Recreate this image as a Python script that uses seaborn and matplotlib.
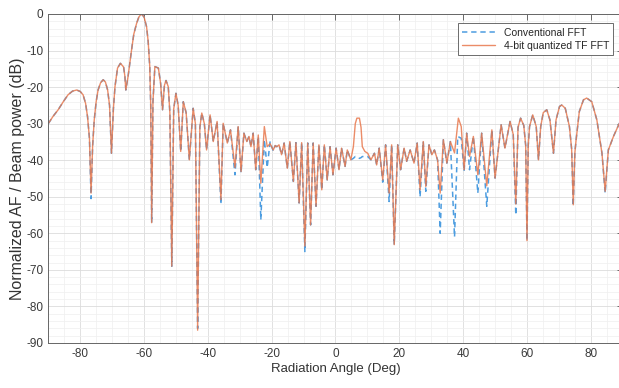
import matplotlib
matplotlib.use("Agg")
import matplotlib.pyplot as plt
from matplotlib.ticker import MultipleLocator
import pandas as pd
import seaborn as sns

sns.set_theme(style="white")
plt.rcParams["font.family"] = ["Liberation Sans", "DejaVu Sans"]
plt.rcParams["axes.unicode_minus"] = False

# (angle deg, normalized power dB), peaks and nulls
QUANT_PTS = [
    (-90.0, -30.0), (-88.5, -28.0), (-86.9, -26.2), (-85.3, -24.0), (-83.8, -22.1),
    (-82.4, -21.1), (-81.1, -20.8), (-80.0, -21.2), (-79.1, -22.1), (-78.3, -24.5),
    (-77.7, -28.1), (-77.1, -34.0), (-76.6, -49.0), (-76.1, -36.0), (-75.6, -29.0),
    (-75.0, -24.0), (-74.4, -20.8), (-73.6, -18.8), (-72.8, -18.0), (-72.1, -18.6),
    (-71.4, -20.8), (-70.8, -25.0), (-70.2, -38.1), (-69.6, -26.0), (-69.1, -19.9),
    (-68.3, -14.8), (-67.4, -13.5), (-66.4, -14.5), (-66.0, -17.0), (-65.7, -20.8),
    (-65.0, -17.1), (-64.4, -13.0), (-63.9, -9.8), (-63.2, -5.5), (-62.3, -2.5),
    (-61.6, -0.8), (-60.8, 0.0), (-60.0, -0.8), (-59.2, -3.5), (-58.7, -7.5),
    (-58.2, -14.4), (-57.9, -25.0), (-57.6, -57.1), (-57.2, -24.0), (-56.6, -14.4),
    (-55.5, -14.8), (-54.8, -19.0), (-54.2, -26.2), (-53.6, -19.5), (-53.1, -18.2),
    (-52.4, -19.9), (-51.9, -27.0), (-51.3, -69.0), (-50.7, -26.0), (-50.0, -21.7),
    (-49.3, -25.0), (-48.5, -37.6), (-47.7, -24.0), (-46.8, -27.0), (-45.8, -39.9),
    (-44.6, -25.8), (-43.9, -30.0), (-43.2, -86.5), (-42.5, -31.0), (-41.9, -27.1),
    (-41.1, -30.0), (-40.4, -37.2), (-39.3, -27.6), (-38.3, -34.9), (-37.1, -29.4),
    (-35.9, -50.8), (-35.2, -29.9), (-33.9, -35.3), (-32.9, -31.7), (-31.5, -42.0),
    (-30.5, -30.8), (-29.6, -43.1), (-28.7, -32.6), (-27.8, -34.9), (-27.1, -33.5),
    (-26.5, -36.3), (-25.8, -32.6), (-25.0, -42.6), (-24.2, -33.1), (-23.4, -46.3),
    (-22.3, -30.8), (-21.4, -36.3), (-20.5, -35.5), (-19.5, -37.2), (-18.9, -36.0),
    (-18.4, -36.3), (-17.7, -35.8), (-16.9, -38.5), (-16.1, -35.3), (-15.1, -42.2),
    (-14.3, -34.9), (-13.2, -45.8), (-12.4, -35.2), (-11.4, -51.7), (-10.6, -35.2),
    (-9.6, -63.5), (-8.7, -35.3), (-7.8, -57.7), (-7.0, -35.3), (-6.1, -52.6),
    (-5.2, -35.8), (-4.3, -48.1), (-3.5, -35.8), (-2.6, -45.4), (-1.7, -36.3),
    (-0.8, -44.0), (0.2, -36.7), (1.1, -42.6), (1.9, -36.7), (3.0, -41.7),
    (3.7, -37.2), (4.8, -39.9), (5.6, -36.3), (6.2, -30.0), (6.7, -28.5),
    (7.5, -28.5), (8.0, -31.0), (8.4, -36.3), (9.2, -37.6), (10.1, -38.1),
    (11.1, -39.9), (12.2, -38.1), (12.9, -41.3), (13.7, -36.7), (14.8, -45.4),
    (15.7, -35.8), (16.8, -49.0), (17.6, -35.8), (18.4, -63.1), (19.5, -35.8),
    (20.4, -42.6), (21.5, -36.7), (22.3, -40.3), (23.4, -37.2), (24.6, -40.8),
    (25.6, -35.3), (26.5, -48.1), (27.5, -34.9), (28.3, -47.2), (29.3, -35.8),
    (30.2, -38.5), (31.0, -37.2), (32.0, -40.0), (32.8, -49.0), (33.8, -34.4),
    (34.9, -40.8), (36.0, -34.9), (37.3, -38.0), (38.5, -28.5), (39.4, -30.8),
    (40.3, -42.6), (41.1, -32.6), (42.0, -39.0), (43.2, -33.5), (44.6, -44.0),
    (45.8, -32.6), (47.4, -47.0), (49.0, -31.7), (50.0, -44.9), (51.9, -30.3),
    (53.1, -36.7), (54.7, -29.4), (55.7, -33.0), (56.5, -52.0), (57.2, -31.0),
    (58.0, -28.5), (59.0, -30.5), (59.6, -36.0), (60.0, -62.0), (60.4, -36.0),
    (60.8, -30.8), (61.8, -27.6), (62.9, -30.8), (63.6, -39.9), (64.3, -30.8),
    (65.1, -27.0), (66.2, -26.2), (67.2, -29.0), (68.3, -38.1), (69.1, -29.0),
    (70.2, -25.3), (70.9, -24.9), (72.0, -25.8), (73.3, -30.8), (74.0, -37.0),
    (74.5, -52.2), (75.0, -38.0), (75.4, -34.4), (76.4, -26.7), (77.7, -23.5),
    (78.7, -23.0), (80.3, -24.0), (81.9, -29.0), (83.5, -38.1), (84.5, -48.5),
    (85.5, -37.2), (87.1, -33.5), (88.9, -30.0), (90.0, -28.5),
]

CONV_PTS = [
    (-90.0, -30.0), (-88.5, -28.0), (-86.9, -26.2), (-85.3, -24.0), (-83.8, -22.1),
    (-82.4, -21.1), (-81.1, -20.8), (-80.0, -21.2), (-79.1, -22.1), (-78.3, -24.5),
    (-77.7, -28.1), (-77.1, -34.0), (-76.6, -50.5), (-76.1, -36.0), (-75.6, -29.0),
    (-75.0, -24.0), (-74.4, -20.8), (-73.6, -18.8), (-72.8, -18.0), (-72.1, -18.6),
    (-71.4, -20.8), (-70.8, -25.0), (-70.2, -38.1), (-69.6, -26.0), (-69.1, -19.9),
    (-68.3, -14.8), (-67.4, -13.5), (-66.4, -14.5), (-66.0, -17.0), (-65.7, -20.8),
    (-65.0, -17.1), (-64.4, -13.0), (-63.9, -9.8), (-63.2, -5.5), (-62.3, -2.5),
    (-61.6, -0.8), (-60.8, 0.0), (-60.0, -0.8), (-59.2, -3.5), (-58.7, -7.5),
    (-58.2, -14.4), (-57.9, -25.0), (-57.6, -57.1), (-57.2, -24.0), (-56.6, -14.4),
    (-55.5, -14.8), (-54.8, -19.0), (-54.2, -26.2), (-53.6, -19.5), (-53.1, -18.2),
    (-52.4, -19.9), (-51.9, -27.0), (-51.3, -69.0), (-50.7, -26.0), (-50.0, -21.7),
    (-49.3, -25.0), (-48.5, -37.6), (-47.7, -24.0), (-46.8, -27.0), (-45.8, -39.9),
    (-44.6, -25.8), (-43.9, -30.0), (-43.2, -86.0), (-42.5, -31.0), (-41.9, -27.1),
    (-41.1, -30.0), (-40.4, -37.2), (-39.3, -27.6), (-38.3, -34.9), (-37.1, -29.4),
    (-35.9, -52.0), (-35.2, -29.9), (-33.9, -35.3), (-32.9, -31.7), (-31.5, -44.0),
    (-30.5, -30.8), (-29.6, -43.5), (-28.7, -32.6), (-27.8, -34.9), (-27.1, -33.5),
    (-26.5, -36.3), (-25.8, -32.6), (-25.0, -42.6), (-24.2, -33.5), (-23.4, -56.3),
    (-22.3, -34.4), (-21.4, -42.0), (-20.5, -35.0), (-19.5, -37.5), (-18.9, -36.0),
    (-18.4, -36.3), (-17.7, -35.8), (-16.9, -38.5), (-16.1, -35.3), (-15.1, -42.2),
    (-14.3, -34.9), (-13.2, -45.8), (-12.4, -35.2), (-11.4, -51.7), (-10.6, -35.2),
    (-9.6, -65.0), (-8.7, -35.3), (-7.8, -57.7), (-7.0, -35.3), (-6.1, -52.6),
    (-5.2, -35.8), (-4.3, -48.1), (-3.5, -35.8), (-2.6, -45.4), (-1.7, -36.3),
    (-0.8, -44.0), (0.2, -36.7), (1.1, -42.6), (1.9, -36.7), (3.0, -41.7),
    (3.7, -37.2), (4.8, -39.9), (5.6, -39.5), (6.2, -39.0), (6.7, -39.3),
    (7.5, -39.5), (8.0, -39.3), (8.4, -39.0), (9.2, -39.0), (10.1, -39.0),
    (11.1, -39.9), (12.2, -38.1), (12.9, -41.3), (13.7, -36.7), (14.8, -46.0),
    (15.7, -35.8), (16.8, -51.3), (17.6, -35.8), (18.4, -63.1), (19.5, -35.8),
    (20.4, -42.6), (21.5, -36.7), (22.3, -40.3), (23.4, -37.2), (24.6, -40.8),
    (25.6, -35.3), (26.5, -50.0), (27.5, -34.9), (28.3, -48.5), (29.3, -35.8),
    (30.2, -38.5), (31.0, -37.2), (32.0, -40.0), (32.8, -60.0), (33.8, -34.4),
    (34.9, -40.8), (36.0, -34.9), (37.3, -61.0), (38.3, -33.5), (39.4, -34.0),
    (40.3, -43.0), (41.1, -32.6), (42.0, -42.6), (43.2, -33.5), (44.6, -49.0),
    (45.8, -32.6), (47.4, -52.6), (49.0, -31.7), (50.0, -44.9), (51.9, -30.3),
    (53.1, -36.7), (54.7, -29.4), (55.7, -33.0), (56.5, -55.0), (57.2, -31.0),
    (58.0, -28.5), (59.0, -30.5), (59.6, -36.0), (60.0, -62.0), (60.4, -36.0),
    (60.8, -30.8), (61.8, -27.6), (62.9, -30.8), (63.6, -39.9), (64.3, -30.8),
    (65.1, -27.0), (66.2, -26.2), (67.2, -29.0), (68.3, -38.1), (69.1, -29.0),
    (70.2, -25.3), (70.9, -24.9), (72.0, -25.8), (73.3, -30.8), (74.0, -37.0),
    (74.5, -52.5), (75.0, -38.0), (75.4, -34.4), (76.4, -26.7), (77.7, -23.5),
    (78.7, -23.0), (80.3, -24.0), (81.9, -29.0), (83.5, -38.1), (84.5, -49.0),
    (85.5, -37.2), (87.1, -33.5), (88.9, -30.0), (90.0, -28.5),
]

X_TICKS = [-80, -60, -40, -20, 0, 20, 40, 60, 80]
Y_TICKS = [0, -10, -20, -30, -40, -50, -60, -70, -80, -90]

BLUE = "#4d9de0"
ORANGE = "#e8784d"

conv = pd.DataFrame(CONV_PTS, columns=["deg", "db"])
quant = pd.DataFrame(QUANT_PTS, columns=["deg", "db"])

fig = plt.figure(figsize=(6.19, 3.88), dpi=100)
ax = fig.add_axes([0.078, 0.116, 0.928, 0.848])

sns.lineplot(data=conv, x="deg", y="db", ax=ax, color=BLUE, lw=1.1,
             linestyle=(0, (3.5, 2.5)), estimator=None, sort=False,
             label="Conventional FFT")
sns.lineplot(data=quant, x="deg", y="db", ax=ax, color=ORANGE, lw=1.0,
             alpha=0.85, estimator=None, sort=False,
             label="4-bit quantized TF FFT")

ax.set_xlim(-90, 90)
ax.set_ylim(-90, 0)
ax.set_xticks(X_TICKS)
ax.set_yticks(Y_TICKS)
ax.xaxis.set_minor_locator(MultipleLocator(5))
ax.yaxis.set_minor_locator(MultipleLocator(2))
ax.grid(which="major", color="#dcdcdc", lw=0.6)
ax.grid(which="minor", color="#efefef", lw=0.5)
ax.set_axisbelow(True)

ax.tick_params(which="major", direction="in", length=4, width=0.6,
               color="#555555", labelcolor="#3a3a3a", labelsize=8.5,
               top=True, right=True)
ax.tick_params(which="minor", length=0)
for s in ax.spines.values():
    s.set_color("#666666")
    s.set_linewidth(0.7)

ax.set_xlabel("Radiation Angle (Deg)", fontsize=9.5, color="#333333", labelpad=2)
ax.set_ylabel("Normalized AF / Beam power (dB)", fontsize=11.5, color="#333333",
              labelpad=1)

leg = ax.legend(loc="upper right", fontsize=7.5, handlelength=3.2,
                borderaxespad=0.9, fancybox=False, framealpha=1,
                edgecolor="#555555", borderpad=0.4, labelspacing=0.3)
leg.get_frame().set_linewidth(0.6)

fig.savefig("out.png", dpi=100)
